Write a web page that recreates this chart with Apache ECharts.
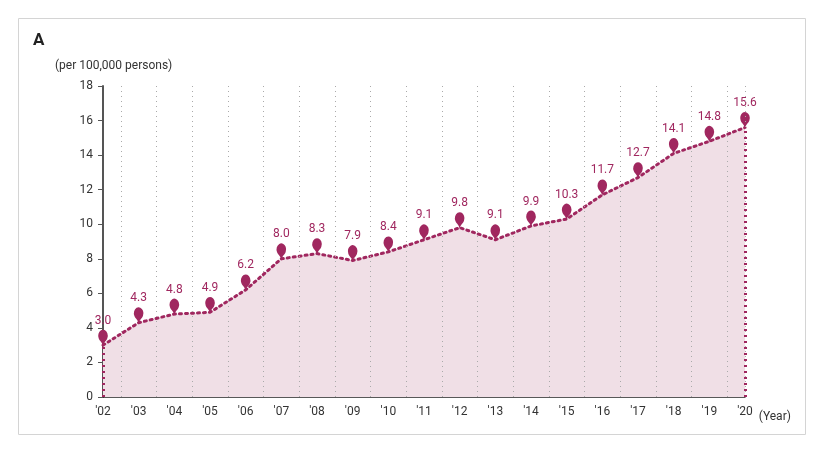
<!DOCTYPE html>
<html><head><meta charset="utf-8">
<script src="https://cdn.jsdelivr.net/npm/echarts@6/dist/echarts.min.js"></script>
<style>html,body{margin:0;background:#fff}#c{width:824px;height:453px}</style>
</head><body><div id="c"></div>
<script>
var years = ["'02","'03","'04","'05","'06","'07","'08","'09","'10","'11","'12","'13","'14","'15","'16","'17","'18","'19","'20"];
var rates = [3.0,4.3,4.8,4.9,6.2,8.0,8.3,7.9,8.4,9.1,9.8,9.1,9.9,10.3,11.7,12.7,14.1,14.8,15.6];
var yTicks = [0,2,4,6,8,10,12,14,16,18];

var main = '#a0275f';
var font = 'Roboto, "Noto Sans", sans-serif';
var chart = echarts.init(document.getElementById('c'));

var gridLines = [];
for (var i = 0; i < years.length - 1; i++) gridLines.push({xAxis: i + 0.5});
gridLines.push({xAxis: years.length - 1});

chart.setOption({
  animation: false,
  textStyle: {fontFamily: font},
  graphic: [
    {type: 'rect', shape: {x: 18.5, y: 18.5, width: 787, height: 416}, style: {fill: 'none', stroke: '#d4d4d4', lineWidth: 1}},
    {type: 'text', left: 33, top: 32, style: {text: 'A', font: 'bold 17px ' + font, fill: '#222'}}
  ],
  grid: {left: 103, right: 79, top: 86, bottom: 56},
  xAxis: {
    type: 'value', min: 0, max: years.length - 1, interval: 1,
    name: '(Year)', nameLocation: 'end', nameGap: 6,
    nameTextStyle: {color: '#333', fontSize: 12, padding: [14, 0, 0, 0], verticalAlign: 'top'},
    axisLine: {lineStyle: {color: '#222', width: 1.5}},
    axisTick: {show: false},
    splitLine: {show: false},
    axisLabel: {color: '#333', fontSize: 12, margin: 9, formatter: function (v) { return years[v]; }}
  },
  yAxis: {
    type: 'value', min: 0, max: 18, interval: 2,
    name: '(per 100,000 persons)', nameLocation: 'end', nameGap: 14,
    nameTextStyle: {color: '#333', fontSize: 12, align: 'left', padding: [0, 0, 0, -48]},
    axisLine: {show: true, lineStyle: {color: '#555', width: 2}},
    axisTick: {show: true, length: 5, lineStyle: {color: '#555'}},
    splitLine: {show: false},
    axisLabel: {color: '#333', fontSize: 12, margin: 10}
  },
  series: [{
    type: 'line',
    data: rates.map(function (v, i) { return [i, v]; }),
    lineStyle: {color: main, width: 3, type: [2, 4], cap: 'round'},
    areaStyle: {color: '#f0dfe6', opacity: 1},
    symbol: 'pin', symbolSize: [16, 20], symbolOffset: [0, 2],
    itemStyle: {color: main},
    label: {show: true, position: 'top', distance: 3, color: main, fontSize: 12,
      formatter: function (p) { return p.value[1].toFixed(1); }},
    markLine: {
      silent: true, symbol: 'none', label: {show: false},
      lineStyle: {color: '#aaa', type: [1, 4], width: 1},
      data: gridLines.concat([
        [{coord: [0, 0], lineStyle: {color: main, width: 3, type: [2, 4]}}, {coord: [0, rates[0]]}],
        [{coord: [years.length - 1, 0], lineStyle: {color: main, width: 3, type: [2, 4]}}, {coord: [years.length - 1, rates[rates.length - 1]]}]
      ])
    },
    z: 3
  }]
});
</script></body></html>
